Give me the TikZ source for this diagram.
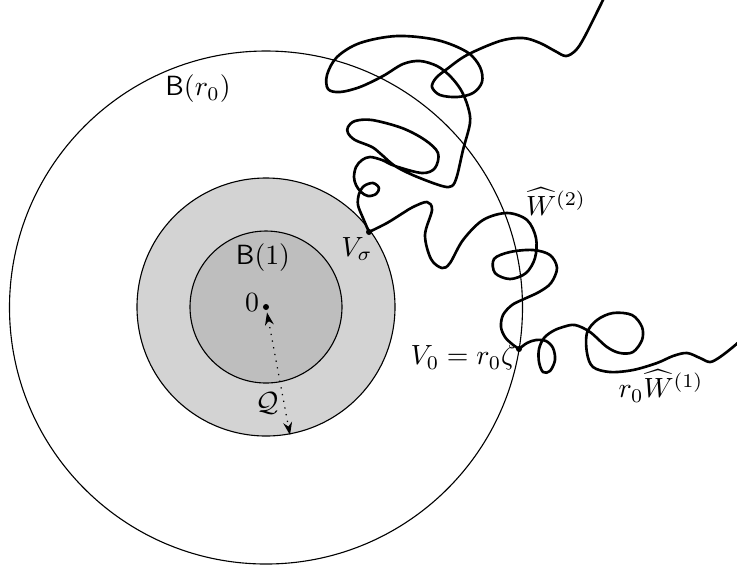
\documentclass[tikz,border=0pt]{standalone}
\usetikzlibrary{arrows.meta}
\definecolor{ringgray}{RGB}{211,211,211}
\definecolor{ballgray}{RGB}{190,190,190}
\begin{document}
\begin{tikzpicture}[x=0.36pt,y=-0.36pt,
  rim/.style={line width=0.4pt},
  walk/.style={line width=0.95pt, line join=round, line cap=round},
  lbl/.style={inner sep=0pt}]
\useasboundingbox (0,0) rectangle (737,569);
\coordinate (O) at (266,307);
\coordinate (V0) at (519,349);
\coordinate (Vs) at (369,232);
\coordinate (Qend) at (290,435);
% balls
\draw[rim] (266,307.5) circle[radius=256.5];
\draw[rim, fill=ringgray] (O) circle[radius=129];
\draw[rim, fill=ballgray] (O) circle[radius=76];
% radius arrow
\draw[dotted, line width=0.45pt, {Stealth[length=4.6pt,width=3.2pt]}-{Stealth[length=4.6pt,width=3.2pt]}, shorten <=2pt] (O) -- (Qend);
\fill (O) circle[radius=3];
% walk W1
\draw[walk] plot[smooth, tension=0.55] coordinates {(V0) (527,343) (536,340) (546,341) (553,348) (555,360) (550,371) (543,372) (539,362) (539,349) (544,338) (553,331) (563,327) (575,325) (590,332) (607,347) (620,353) (633,352) (642,340) (642,327) (632,315) (613,313) (597,320) (587,333) (587,353) (593,367) (610,372) (633,370) (657,363) (673,356) (687,353) (700,358) (710,362) (720,357) (733,347) (742,339)};
% walk W2 from V0 to Vsigma
\draw[walk] plot[smooth, tension=0.55] coordinates {(V0) (512,344) (505,337) (501,327) (503,315) (512,305) (524,299) (539,292) (551,283) (557,268) (550,255) (533,250) (510,252) (494,259) (495,273) (510,279) (526,273) (535,258) (536,238) (527,220) (507,213) (483,220) (463,240) (450,263) (442,268) (431,259) (425,235) (432,210) (427,202) (413,207) (403,213) (387,223) (Vs)};
% continuation from Vsigma upward
\draw[walk] plot[smooth, tension=0.55] coordinates {(Vs) (363,218) (358,205) (359,194) (364,186) (373,183) (379,188) (376,194) (368,196) (361,192) (356,185) (354,177) (356,167) (362,160) (370,157) (382,160) (395,166) (422,173) (435,168) (438,153) (425,140) (402,128) (372,120) (355,121) (348,127) (348,133) (355,140) (372,147) (382,155) (395,166) (415,176) (442,186) (452,186) (457,176) (463,150) (470,123) (468,107) (461,90) (450,76) (437,66) (420,61) (403,64) (383,76) (360,87) (340,92) (328,89) (327,75) (337,57) (360,43) (397,36) (437,40) (467,52) (480,67) (482,82) (473,93) (457,97) (440,95) (432,87) (436,78) (447,69) (467,55) (500,41) (523,38) (540,43) (555,51) (566,56) (576,50) (585,36) (603,0) (606,-6)};
\fill (V0) circle[radius=3];
\fill (Vs) circle[radius=3];
% labels
\node[lbl] (lBr) at (198,89) {$\mathsf{B}(r_0)$};
\node[lbl] (lB1) at (263,258) {$\mathsf{B}(1)$};
\node[lbl] (l0) at (252,303) {$0$};
\node[lbl] (lQ) at (267,403) {$\mathcal{Q}$};
\node[lbl] (lVs) at (357,249) {$V_\sigma$};
\node[lbl] (lV0) at (463,358) {$V_0 = r_0\zeta$};
\node[lbl] (lW2) at (556,202) {$\widehat{W}^{(2)}$};
\node[lbl] (lW1) at (661,386) {$r_0\widehat{W}^{(1)}$};
\end{tikzpicture}
\end{document}
